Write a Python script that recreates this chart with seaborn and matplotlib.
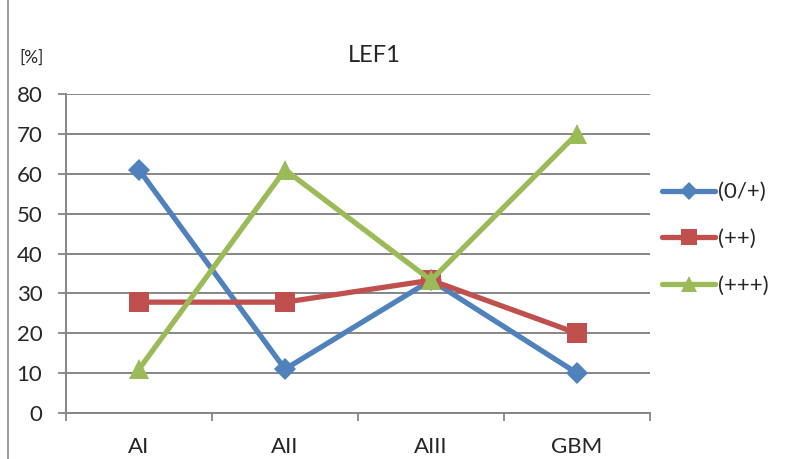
import matplotlib
matplotlib.use("Agg")
import matplotlib.pyplot as plt
from matplotlib.lines import Line2D
import seaborn as sns
import pandas as pd

categories = ["AI", "AII", "AIII", "GBM"]
series_names = ["(0/+)", "(++)", "(+++)"]
s_low = [61, 11, 33.3, 10]
s_mid = [27.8, 27.8, 33.3, 20]
s_high = [11, 61, 33.3, 70]
y_ticks = [0, 10, 20, 30, 40, 50, 60, 70, 80]

sns.set_theme(style="white")
plt.rcParams["font.family"] = ["Lato", "DejaVu Sans"]

rows = []
for name, vals in zip(series_names, [s_low, s_mid, s_high]):
    for i, (c, v) in enumerate(zip(categories, vals)):
        rows.append({"pos": i, "cat": c, "val": v, "series": name})
df = pd.DataFrame(rows)

colors = {"(0/+)": "#4F81BD", "(++)": "#C0504D", "(+++)": "#9BBB59"}
markers = {"(0/+)": "D", "(++)": "s", "(+++)": "^"}
msizes = {"(0/+)": 11.5, "(++)": 14, "(+++)": 14.5}

fig = plt.figure(figsize=(7.89, 4.59), dpi=100)
ax = fig.add_axes([66/789, 1-413/459, (650-66)/789, (413-94)/459])

for name in series_names:
    sub = df[df["series"] == name]
    sns.lineplot(data=sub, x="pos", y="val", ax=ax, color=colors[name],
                 marker=markers[name], markersize=msizes[name], linewidth=3.8,
                 markeredgewidth=0, label=name, legend=False)

ax.set_xlim(-0.5, 3.5)
ax.set_ylim(0, 80)
ax.set_yticks(y_ticks)
ax.set_yticklabels([str(t) for t in y_ticks], fontsize=16)
ax.set_xticks(range(len(categories)))
ax.set_xticklabels(categories, fontsize=16)
ax.tick_params(axis="x", length=0, pad=17)
ax.tick_params(axis="y", length=6, width=1.3, color="#868686", direction="out", pad=11, left=True)
ax.set_xticks([-0.5, 0.5, 1.5, 2.5, 3.5], minor=True)
ax.tick_params(axis="x", which="minor", length=6, width=1.3, color="#868686", direction="out", bottom=True)
ax.set_xlabel("")
ax.set_ylabel("")
ax.grid(axis="y", color="#868686", linewidth=1.4)
ax.grid(axis="x", visible=False)
ax.set_axisbelow(True)
for side in ["top", "right"]:
    ax.spines[side].set_visible(False)
for side in ["left", "bottom"]:
    ax.spines[side].set_color("#868686")
    ax.spines[side].set_linewidth(1.4)

fig.text(374/789, 1-56/459, "LEF1", fontsize=17, ha="center", va="center")
fig.text(19/789, 1-58/459, "[%]", fontsize=12.5, va="center", ha="left")

handles = [Line2D([], [], color=colors[n], marker=markers[n], markersize=msizes[n] * 0.8,
                  linewidth=3.8, markeredgewidth=0) for n in series_names]
ax.legend(handles, series_names, loc="center left", bbox_to_anchor=(662/789, 1-239/459),
          bbox_transform=fig.transFigure, frameon=False, fontsize=16,
          handlelength=2.4, handletextpad=0.1, labelspacing=1.2, borderaxespad=0,
          borderpad=0)

fig.add_artist(Line2D([8/789, 8/789], [0, 1], color="#868686", linewidth=1.2,
                      transform=fig.transFigure))

fig.savefig("out.png", dpi=100)
